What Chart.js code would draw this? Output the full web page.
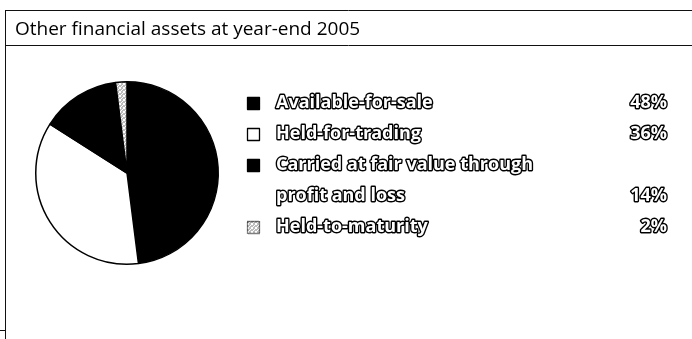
<!DOCTYPE html>
<html>
<head>
<meta charset="utf-8">
<script src="https://cdn.jsdelivr.net/npm/chart.js@4/dist/chart.umd.min.js"></script>
<style>
  html, body { margin: 0; padding: 0; background: #fff; }
  #wrap { position: relative; width: 692px; height: 339px; }
  canvas { position: absolute; left: 0; top: 0; }
</style>
</head>
<body>
<div id="wrap"><canvas id="myChart" width="692" height="339"></canvas></div>
<script>
// pie data: share of other financial assets, year-end 2005
const chartTitle = "Other financial assets at year-end 2005";
const categories = ["Available-for-sale", "Held-for-trading", "Carried at fair value through profit and loss", "Held-to-maturity"];
const legendLines = [["Available-for-sale"], ["Held-for-trading"], ["Carried at fair value through", "profit and loss"], ["Held-to-maturity"]];
const shares = [48, 36, 14, 2];

// speckled grey for the held-to-maturity slice
function speckle() {
  const c = document.createElement("canvas");
  c.width = 4; c.height = 4;
  const g = c.getContext("2d");
  g.fillStyle = "#bdbdbd";
  g.fillRect(0, 0, 4, 4);
  g.fillStyle = "#ffffff";
  [[0, 0], [2, 1], [1, 2], [3, 3], [3, 0], [0, 3]].forEach(p => g.fillRect(p[0], p[1], 1, 1));
  return g.createPattern(c, "repeat");
}
const grey = speckle();
const fills = ["#000000", "#ffffff", "#000000", grey];

// frame lines and the title bar
const framePlugin = {
  id: "frame",
  beforeDraw(chart) {
    const ctx = chart.ctx;
    ctx.save();
    ctx.strokeStyle = "#111";
    ctx.lineWidth = 1;
    ctx.beginPath();
    ctx.moveTo(5, 10.5); ctx.lineTo(692, 10.5);
    ctx.moveTo(5, 45.5); ctx.lineTo(692, 45.5);
    ctx.moveTo(5.5, 10); ctx.lineTo(5.5, 339);
    ctx.moveTo(0, 330.5); ctx.lineTo(5, 330.5);
    ctx.stroke();
    ctx.fillStyle = "#000";
    ctx.font = "19px 'Open Sans', sans-serif";
    ctx.textBaseline = "alphabetic";
    ctx.fillText(chartTitle, 15, 35);
    ctx.restore();
  }
};

// legend on the right: swatch, outlined label, share
const legendPlugin = {
  id: "sideLegend",
  afterDraw(chart) {
    const ctx = chart.ctx;
    ctx.save();
    ctx.font = "bold 18px 'Open Sans', sans-serif";
    ctx.textBaseline = "middle";
    ctx.lineJoin = "round";
    let row = 0;
    categories.forEach((cat, i) => {
      const y0 = 103 + row * 31;
      ctx.fillStyle = fills[i];
      ctx.fillRect(247, y0 - 6, 13, 12);
      ctx.strokeStyle = "#000";
      ctx.lineWidth = 1.3;
      if (i === 3) ctx.setLineDash([1, 1]);
      ctx.strokeRect(247.5, y0 - 5.5, 12, 12);
      ctx.setLineDash([]);
      legendLines[i].forEach((line, k) => {
        const y = y0 + k * 31;
        ctx.textAlign = "left";
        ctx.lineWidth = 2.8;
        ctx.strokeText(line, 276, y);
        ctx.fillStyle = "#fff";
        ctx.fillText(line, 276, y);
      });
      const yv = y0 + (legendLines[i].length - 1) * 31;
      const label = shares[i] + "%";
      ctx.textAlign = "right";
      ctx.lineWidth = 2.8;
      ctx.strokeText(label, 667, yv);
      ctx.fillStyle = "#fff";
      ctx.fillText(label, 667, yv);
      row += legendLines[i].length;
    });
    ctx.restore();
  }
};

new Chart(document.getElementById("myChart").getContext("2d"), {
  type: "pie",
  data: {
    labels: categories,
    datasets: [{
      data: shares,
      backgroundColor: fills,
      borderColor: "#000",
      borderWidth: 1.5
    }]
  },
  options: {
    responsive: false,
    animation: false,
    layout: { padding: { left: 35, right: 473, top: 81, bottom: 74 } },
    plugins: {
      legend: { display: false },
      tooltip: { enabled: false }
    }
  },
  plugins: [framePlugin, legendPlugin]
});
</script>
</body>
</html>
